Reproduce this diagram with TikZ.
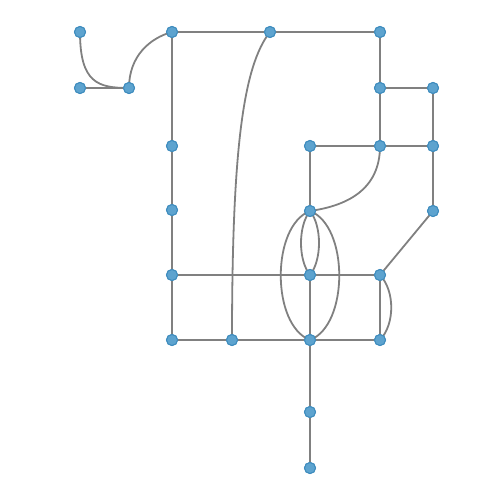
\documentclass[tikz,border=0pt]{standalone}
\begin{document}
\begin{tikzpicture}[x=1pt,y=-1pt,
  vtx/.style={circle,fill={rgb,255:red,93;green,163;blue,207},draw={rgb,255:red,62;green,140;blue,190},line width=1pt,minimum size=11pt,inner sep=0pt},
  edge/.style={draw={rgb,255:red,128;green,128;blue,128},line width=1.8pt}]
\useasboundingbox (0,-1) rectangle (500,499);
\node[vtx] (A) at (80,31) {};
\node[vtx] (B) at (80,87) {};
\node[vtx] (C) at (129,87) {};
\node[vtx] (D) at (172,31) {};
\node[vtx] (E) at (270,31) {};
\node[vtx] (F) at (380,31) {};
\node[vtx] (G) at (380,87) {};
\node[vtx] (H) at (433,87) {};
\node[vtx] (I) at (172,145) {};
\node[vtx] (J) at (310,145) {};
\node[vtx] (K) at (380,145) {};
\node[vtx] (L) at (433,145) {};
\node[vtx] (M) at (172,209) {};
\node[vtx] (N) at (310,210) {};
\node[vtx] (O) at (433,210) {};
\node[vtx] (P) at (172,274) {};
\node[vtx] (Q) at (310,274) {};
\node[vtx] (R) at (380,274) {};
\node[vtx] (S) at (172,339) {};
\node[vtx] (T) at (232,339) {};
\node[vtx] (U) at (310,339) {};
\node[vtx] (V) at (380,339) {};
\node[vtx] (W) at (310,411) {};
\node[vtx] (X) at (310,467) {};
\path[edge] (A.center) .. controls (80,82) and (98,87) .. (C.center);
\path[edge] (B.center) -- (C.center);
\path[edge] (C.center) .. controls (129,55) and (150,37) .. (D.center);
\path[edge] (D.center) -- (E.center) -- (F.center);
\path[edge] (D.center) -- (I.center) -- (M.center) -- (P.center) -- (S.center);
\path[edge] (E.center) .. controls (243,65) and (232,150) .. (T.center);
\path[edge] (F.center) -- (G.center) -- (K.center);
\path[edge] (G.center) -- (H.center) -- (L.center) -- (O.center) -- (R.center);
\path[edge] (J.center) -- (K.center) -- (L.center);
\path[edge] (J.center) -- (N.center);
\path[edge] (K.center) .. controls (380,190) and (345,205) .. (N.center);
\path[edge] (N.center) .. controls (298,225) and (298,259) .. (Q.center);
\path[edge] (N.center) .. controls (322,225) and (322,259) .. (Q.center);
\path[edge] (N.center) .. controls (271,225) and (271,324) .. (U.center);
\path[edge] (N.center) .. controls (349,225) and (349,324) .. (U.center);
\path[edge] (P.center) -- (Q.center) -- (R.center);
\path[edge] (Q.center) -- (U.center);
\path[edge] (R.center) -- (V.center);
\path[edge] (R.center) .. controls (395,290) and (395,323) .. (V.center);
\path[edge] (S.center) -- (T.center) -- (U.center) -- (V.center);
\path[edge] (U.center) -- (W.center) -- (X.center);
\foreach \n in {A,B,C,D,E,F,G,H,I,J,K,L,M,N,O,P,Q,R,S,T,U,V,W,X}
  \node[vtx] at (\n) {};
\end{tikzpicture}
\end{document}
